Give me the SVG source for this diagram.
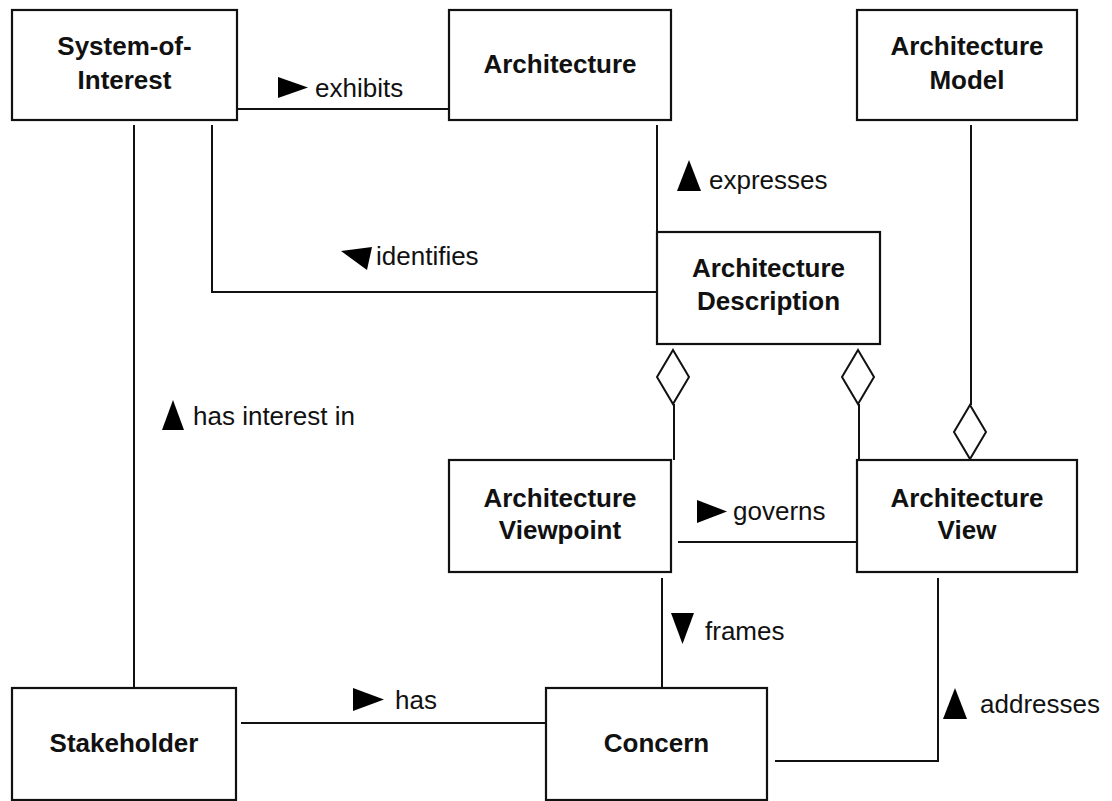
<svg xmlns="http://www.w3.org/2000/svg" width="1112" height="801" viewBox="0 0 1112 801">
<style>
.box{fill:#fff;stroke:#111;stroke-width:2.2}
.nt{font-family:"Liberation Sans",Arial,sans-serif;font-weight:bold;font-size:26px;fill:#111;text-anchor:middle}
.lt{font-family:"Liberation Sans",Arial,sans-serif;font-size:26px;fill:#111}
.ln{fill:none;stroke:#111;stroke-width:2}
.dia{fill:#fff;stroke:#111;stroke-width:2}
.tri{fill:#000}
</style>
<rect width="1112" height="801" fill="#fff"/>
<g id="connectors">
  <path class="ln" d="M237,109 H449"/>
  <path class="ln" d="M657,125 V232"/>
  <path class="ln" d="M212,125 V292 H657"/>
  <path class="ln" d="M134,125 V688"/>
  <path class="ln" d="M971,125 V405"/>
  <path class="dia" d="M970,405 L986,432 L970,459 L954,432 Z"/>
  <path class="ln" d="M674,404 V460"/>
  <path class="dia" d="M673,350 L689,377 L673,404 L657,377 Z"/>
  <path class="ln" d="M859,404 V460"/>
  <path class="dia" d="M858,350 L874,377 L858,404 L842,377 Z"/>
  <path class="ln" d="M678,542 H857"/>
  <path class="ln" d="M662,578 V688"/>
  <path class="ln" d="M938,578 V761 H775"/>
  <path class="ln" d="M241,723 H545"/>
  <g id="labels">
    <polygon class="tri" points="278,77 308,87.5 278,98"/>
    <text class="lt" x="315" y="97">exhibits</text>
    <polygon class="tri" points="677,191 689,160 701,191"/>
    <text class="lt" x="709" y="189">expresses</text>
    <polygon class="tri" points="341,251 372,247 367,270"/>
    <text class="lt" x="376" y="265">identifies</text>
    <polygon class="tri" points="162,430 173,400 184,430"/>
    <text class="lt" x="193" y="425">has interest in</text>
    <polygon class="tri" points="697,500 727,511.5 697,523"/>
    <text class="lt" x="733" y="520">governs</text>
    <polygon class="tri" points="671,613 694,613 682.5,644"/>
    <text class="lt" x="705" y="640">frames</text>
    <polygon class="tri" points="943,719 955,688 967,719"/>
    <text class="lt" x="980" y="713">addresses</text>
    <polygon class="tri" points="353,688 384,699.5 353,711"/>
    <text class="lt" x="395" y="709">has</text>
  </g>
</g>
<g id="system-of-interest">
  <rect class="box" x="12" y="10" width="225" height="110"/>
  <text class="nt" x="124.5" y="55">System-of-</text>
  <text class="nt" x="124.5" y="89">Interest</text>
</g>
<g id="architecture">
  <rect class="box" x="449" y="10" width="222" height="110"/>
  <text class="nt" x="560" y="73">Architecture</text>
</g>
<g id="architecture-model">
  <rect class="box" x="857" y="10" width="220" height="110"/>
  <text class="nt" x="967" y="55">Architecture</text>
  <text class="nt" x="967" y="89">Model</text>
</g>
<g id="architecture-description">
  <rect class="box" x="657" y="232" width="223" height="112"/>
  <text class="nt" x="768.5" y="277">Architecture</text>
  <text class="nt" x="768.5" y="310">Description</text>
</g>
<g id="architecture-viewpoint">
  <rect class="box" x="449" y="460" width="222" height="112"/>
  <text class="nt" x="560" y="507">Architecture</text>
  <text class="nt" x="560" y="539">Viewpoint</text>
</g>
<g id="architecture-view">
  <rect class="box" x="857" y="460" width="220" height="112"/>
  <text class="nt" x="967" y="507">Architecture</text>
  <text class="nt" x="967" y="539">View</text>
</g>
<g id="stakeholder">
  <rect class="box" x="12" y="688" width="224" height="112"/>
  <text class="nt" x="124" y="752">Stakeholder</text>
</g>
<g id="concern">
  <rect class="box" x="546" y="688" width="221" height="112"/>
  <text class="nt" x="656.5" y="752">Concern</text>
</g>
</svg>
